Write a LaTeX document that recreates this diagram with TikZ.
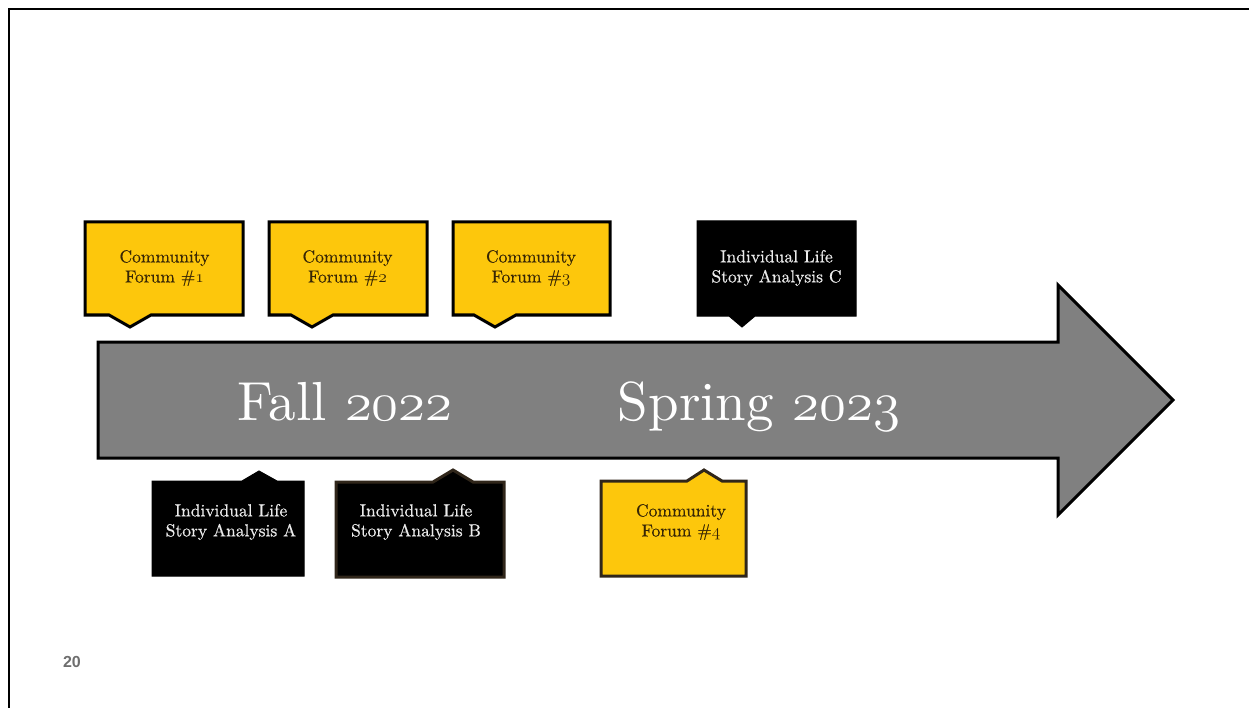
\documentclass[tikz,border=0pt]{standalone}
\usepackage{fix-cm}
\usepackage{fontspec}
\usetikzlibrary{positioning}

\newfontfamily\tenrm{lmroman10-regular.otf}[FakeBold=0.5]
\newfontfamily\seasonrm{lmroman10-regular.otf}
\newfontfamily\pagefont{Liberation Sans}
\newcommand{\osf}[1]{{\usefont{OML}{cmm}{m}{it}#1}}

\definecolor{forumyellow}{RGB}{253,199,12}
\definecolor{arrowgray}{RGB}{128,128,128}
\definecolor{forumtext}{RGB}{55,38,5}
\definecolor{lifetext}{RGB}{235,235,235}
\definecolor{darkedge}{RGB}{48,38,26}
\definecolor{pagegray}{RGB}{110,110,110}

\tikzset{
  forumbox/.style={fill=forumyellow, draw=black, line width=3pt, line join=miter},
  lifebox/.style={fill=black, draw=black, line width=1pt, line join=miter},
  forumtxt/.style={text=forumtext, align=center, font=\tenrm\fontsize{17.5}{20}\selectfont},
  lifetxt/.style={text=lifetext, align=center, font=\tenrm\fontsize{17.5}{20}\selectfont},
  seasontxt/.style={text=white, anchor=base, font=\seasonrm\fontsize{55}{60}\selectfont},
  pagetxt/.style={text=pagegray, font=\pagefont\bfseries\fontsize{16}{18}\selectfont}
}

\begin{document}
\begin{tikzpicture}[x=1pt, y=-1pt]
\useasboundingbox (0,0) rectangle (1249,708);

% slide frame
\draw[line width=2.5pt] (9,708) -- (9,9) -- (1249,9);

% timeline arrow
\draw[fill=arrowgray, line width=3pt, line join=miter]
(98,342) -- (1058,342) -- (1058,285) -- (1173,400) -- (1058,515) -- (1058,458) -- (98,458) -- cycle;

\node[seasontxt] (fall) at (345,420) {Fall \osf{2022}};
\node[seasontxt] (spring) at (759,420) {Spring \osf{2023}};

% callouts above the arrow
\draw[forumbox]
(85,222) -- (243,222) -- (243,315) -- (151,315) -- (130,327) -- (109,315) -- (85,315) -- cycle;
\draw[forumbox]
(269,222) -- (427,222) -- (427,315) -- (333,315) -- (312,327) -- (291,315) -- (269,315) -- cycle;
\draw[forumbox]
(453,222) -- (610,222) -- (610,315) -- (516,315) -- (495,327) -- (474,315) -- (453,315) -- cycle;
\draw[lifebox]
(697,221) -- (856,221) -- (856,316) -- (755,316) -- (742,327) -- (729,316) -- (697,316) -- cycle;

\node[forumtxt] (forum1) at (164.5,268) {Community\\Forum \#\osf{1}};
\node[forumtxt] (forum2) at (347.5,268) {Community\\Forum \#\osf{2}};
\node[forumtxt] (forum3) at (531,268) {Community\\Forum \#\osf{3}};
\node[lifetxt] (lifeC) at (776.5,268) {Individual Life\\Story Analysis C};

% callouts below the arrow
\draw[lifebox]
(152,481) -- (242,481) -- (259,471) -- (277,481) -- (304,481) -- (304,576) -- (152,576) -- cycle;
\draw[lifebox, draw=darkedge, line width=3pt]
(336,482) -- (433,482) -- (453,470) -- (473,482) -- (504,482) -- (504,577) -- (336,577) -- cycle;
\draw[forumbox, draw=darkedge]
(601,481) -- (687,481) -- (704,470) -- (722,481) -- (746,481) -- (746,576) -- (601,576) -- cycle;

\node[lifetxt] (lifeA) at (231,522) {Individual Life\\Story Analysis A};
\node[lifetxt] (lifeB) at (416,522) {Individual Life\\Story Analysis B};
\node[forumtxt] (forum4) at (681,522) {Community\\Forum \#\osf{4}};

\node[pagetxt] (page) at (72,662) {20};
\end{tikzpicture}
\end{document}
